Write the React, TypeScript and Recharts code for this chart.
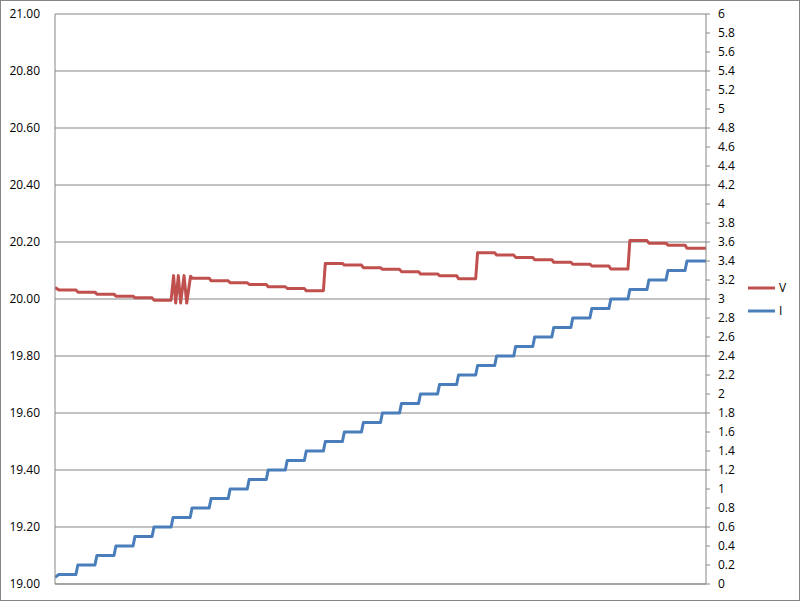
import { LineChart, Line, XAxis, YAxis, CartesianGrid, Legend } from 'recharts';

// time axis: one I step lasts 10 samples
const T_END = 342;
const stepStart = [
  2, 12, 22, 32, 42, 52, 62, 72, 82, 92, 102, 112, 122, 132, 142, 152, 162,
  172, 182, 192, 202, 212, 222, 232, 242, 252, 262, 272, 282, 292, 302, 312, 322, 332,
];

const iFirst = 0.07;
const iLevels = [
  0.1, 0.2, 0.3, 0.4, 0.5, 0.6, 0.7, 0.8, 0.9, 1.0, 1.1, 1.2, 1.3, 1.4, 1.5, 1.6, 1.7,
  1.8, 1.9, 2.0, 2.1, 2.2, 2.3, 2.4, 2.5, 2.6, 2.7, 2.8, 2.9, 3.0, 3.1, 3.2, 3.3, 3.4,
];

const vFirst = 20.04;
const vLevels: (number | null)[] = [
  20.032, 20.024, 20.017, 20.01, 20.004, 19.996, null, 20.073, 20.064, 20.057, 20.051,
  20.043, 20.037, 20.029, 20.125, 20.119, 20.11, 20.104, 20.096, 20.088, 20.082, 20.071,
  20.162, 20.154, 20.146, 20.138, 20.129, 20.122, 20.116, 20.105, 20.205, 20.196, 20.189, 20.178,
];
// the ringing during the 0.7 A step
const vGlitchTime = [62.3, 63.4, 64.8, 66, 67.8, 69.2, 71.2];
const vGlitchValue = [20.082, 19.986, 20.082, 19.986, 20.082, 19.986, 20.08];

const leftTicks = [19, 19.2, 19.4, 19.6, 19.8, 20, 20.2, 20.4, 20.6, 20.8, 21];
const rightTicks = [
  0, 0.2, 0.4, 0.6, 0.8, 1, 1.2, 1.4, 1.6, 1.8, 2, 2.2, 2.4, 2.6, 2.8, 3, 3.2, 3.4, 3.6,
  3.8, 4, 4.2, 4.4, 4.6, 4.8, 5, 5.2, 5.4, 5.6, 5.8, 6,
];
const minorTicks = leftTicks.slice(0, -1).flatMap((t) => [1, 2, 3, 4].map((i) => t + i * 0.04));

type Pt = { t: number; v: number };

const buildSteps = (first: number, levels: (number | null)[]): Pt[] => {
  const pts: Pt[] = [{ t: 0, v: first }];
  levels.forEach((lv, k) => {
    if (lv == null) return;
    const end = k + 1 < stepStart.length ? stepStart[k + 1] - 1 : T_END;
    pts.push({ t: stepStart[k], v: lv }, { t: end, v: lv });
  });
  return pts;
};

const iData = buildSteps(iFirst, iLevels);
const vData = buildSteps(vFirst, vLevels)
  .concat(vGlitchTime.map((t, i) => ({ t, v: vGlitchValue[i] })))
  .sort((a, b) => a.t - b.t);

const GREY = '#868686';
const FONT = "'Open Sans', sans-serif";
const legendOrder = ['V', 'I'];

const renderLegend = (props: any) => {
  const items = [...(props.payload || [])].sort(
    (a: any, b: any) => legendOrder.indexOf(a.value) - legendOrder.indexOf(b.value)
  );
  return (
    <div style={{ fontFamily: FONT, fontSize: 12, color: '#000' }}>
      {items.map((e: any) => (
        <div key={e.value} style={{ display: 'flex', alignItems: 'center', height: 23 }}>
          <svg width={27} height={4}>
            <line x1={0} y1={2} x2={27} y2={2} stroke={e.color} strokeWidth={3} />
          </svg>
          <span style={{ marginLeft: 4 }}>{e.value}</span>
        </div>
      ))}
    </div>
  );
};

export default function App() {
  return (
    <div style={{ position: 'fixed', left: 0, top: 0, width: 800, height: 601, background: '#fff' }}>
      <LineChart width={800} height={601} margin={{ top: 14, right: 0, bottom: 0, left: 0 }}>
        <CartesianGrid yAxisId="left" vertical={false} stroke={GREY} />
        <XAxis
          dataKey="t"
          type="number"
          domain={[0, T_END]}
          allowDataOverflow
          tick={false}
          tickLine={false}
          height={17}
          axisLine={{ stroke: GREY }}
        />
        <YAxis
          yAxisId="left"
          orientation="left"
          width={55}
          domain={[19, 21]}
          ticks={leftTicks}
          interval={0}
          tickFormatter={(v: number) => v.toFixed(2)}
          tick={{ fill: '#000', fontSize: 12, fontFamily: FONT }}
          tickLine={false}
          tickSize={0}
          tickMargin={15}
          axisLine={{ stroke: GREY }}
        />
        <YAxis
          yAxisId="minor"
          orientation="left"
          mirror
          domain={[19, 21]}
          ticks={minorTicks}
          interval={0}
          tick={false}
          tickSize={4}
          tickLine={{ stroke: GREY }}
          axisLine={false}
        />
        <YAxis
          yAxisId="right"
          orientation="right"
          width={94}
          domain={[0, 6]}
          ticks={rightTicks}
          interval={0}
          tickFormatter={(v: number) => String(Math.round(v * 10) / 10)}
          tick={{ fill: '#000', fontSize: 12, fontFamily: FONT, textAnchor: 'start' }}
          tickSize={4}
          tickMargin={8}
          tickLine={{ stroke: GREY }}
          axisLine={{ stroke: GREY }}
        />
        <Legend
          layout="vertical"
          align="center"
          verticalAlign="middle"
          content={renderLegend}
          wrapperStyle={{ left: 748, top: 276, width: 50 }}
        />
        <Line
          yAxisId="left"
          data={vData}
          dataKey="v"
          name="V"
          type="linear"
          stroke="#C0504D"
          strokeWidth={3}
          strokeLinejoin="round"
          dot={false}
          isAnimationActive={false}
        />
        <Line
          yAxisId="right"
          data={iData}
          dataKey="v"
          name="I"
          type="linear"
          stroke="#4A7EBB"
          strokeWidth={3}
          strokeLinejoin="round"
          dot={false}
          isAnimationActive={false}
        />
      </LineChart>
      <div
        style={{
          position: 'absolute',
          inset: 0,
          border: `1px solid ${GREY}`,
          pointerEvents: 'none',
        }}
      />
    </div>
  );
}
